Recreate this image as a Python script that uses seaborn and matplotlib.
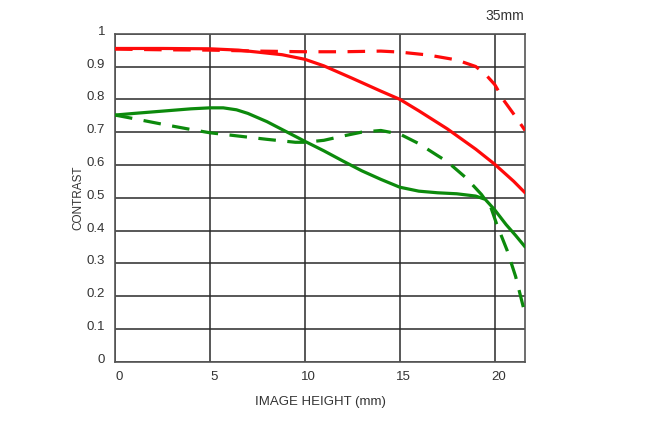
import numpy as np
import pandas as pd
import matplotlib
matplotlib.use("Agg")
import matplotlib.pyplot as plt
import matplotlib.transforms as mtransforms
import seaborn as sns

# MTF curves (image height in mm, contrast)
sag_x = [0, 2.5, 5, 6.5, 7.5, 8.8, 10, 11, 12.5, 14, 15, 16, 17.5, 19, 20, 21, 21.6]
sag_y = [0.955, 0.955, 0.954, 0.950, 0.944, 0.936, 0.922, 0.902, 0.864, 0.825,
         0.800, 0.765, 0.710, 0.648, 0.602, 0.550, 0.515]

mer_x = [0, 2.5, 5, 7.5, 10, 12, 14, 15, 16.5, 18, 19, 19.5, 20, 20.5, 21, 21.6]
mer_y = [0.953, 0.951, 0.950, 0.947, 0.945, 0.945, 0.947, 0.944, 0.935, 0.920,
         0.900, 0.877, 0.845, 0.795, 0.755, 0.705]

sag30_x = [0, 1, 2.5, 4, 5, 5.7, 6.4, 7, 8, 9, 10, 11, 12, 13, 14, 15, 16, 17, 18,
           19, 19.5, 20, 20.6, 21.1, 21.6]
sag30_y = [0.752, 0.757, 0.764, 0.771, 0.774, 0.774, 0.768, 0.757, 0.732, 0.702,
           0.672, 0.643, 0.612, 0.582, 0.556, 0.532, 0.520, 0.515, 0.512, 0.505,
           0.495, 0.463, 0.418, 0.385, 0.350]

mer30_x = [0, 1, 2.5, 4, 5, 6.5, 8, 9.5, 10, 11, 12, 13, 14, 15, 16, 17, 17.5,
           18.5, 19.3, 19.8, 20.1, 20.65, 21.1, 21.6]
mer30_y = [0.752, 0.741, 0.724, 0.708, 0.698, 0.688, 0.678, 0.669, 0.669, 0.675,
           0.688, 0.700, 0.705, 0.694, 0.665, 0.628, 0.610, 0.560, 0.510, 0.470,
           0.420, 0.340, 0.260, 0.145]

x_ticks = [0, 5, 10, 15, 20]
y_ticks = [0, 0.1, 0.2, 0.3, 0.4, 0.5, 0.6, 0.7, 0.8, 0.9, 1.0]
y_labels = ["0", "0.1", "0.2", "0.3", "0.4", "0.5", "0.6", "0.7", "0.8", "0.9", "1"]

red = "#ff0a0a"
green = "#0c8a0c"

sns.set_style("white")
plt.rcParams["font.family"] = ["Liberation Sans", "DejaVu Sans"]

fig = plt.figure(figsize=(6.45, 4.3), dpi=100)
ax = fig.add_axes([0.1783, 0.1588, 0.6364, 0.7628])

dash = (0, (5.5, 3.6))
curves = [
    (sag_x, sag_y, red, "-"),
    (mer_x, mer_y, red, dash),
    (sag30_x, sag30_y, green, "-"),
    (mer30_x, mer30_y, green, dash),
]
for xs, ys, col, ls in curves:
    df = pd.DataFrame({"x": xs, "y": ys})
    sns.lineplot(data=df, x="x", y="y", ax=ax, color=col, linewidth=2.3,
                 linestyle=ls, sort=False, zorder=3)

ax.set_xlim(0, 21.62)
ax.set_ylim(0, 1.0)
ax.set_xticks(x_ticks)
ax.set_yticks(y_ticks)
ax.set_yticklabels(y_labels)
ax.grid(True, color="#2a2a2a", linewidth=1.1)
ax.tick_params(length=0, labelsize=9.5, labelcolor="#333333")
ax.tick_params(axis="y", pad=7)
ax.tick_params(axis="x", pad=7)
up = mtransforms.ScaledTranslation(0, 3.5 / 100, fig.dpi_scale_trans)
for lab in ax.get_yticklabels():
    lab.set_transform(lab.get_transform() + up)
right = mtransforms.ScaledTranslation(4 / 100, 0, fig.dpi_scale_trans)
for lab in ax.get_xticklabels():
    lab.set_transform(lab.get_transform() + right)
for sp in ax.spines.values():
    sp.set_color("#555555")
    sp.set_linewidth(1.2)

ax.set_xlabel("IMAGE HEIGHT (mm)", fontsize=9.5, color="#333333", labelpad=9)
ax.set_ylabel("CONTRAST", fontsize=8.5, color="#333333", labelpad=2)
fig.text(0.813, 0.947, "35mm", ha="right", va="bottom", fontsize=10, color="#333333")

fig.savefig("out.png", dpi=100)
